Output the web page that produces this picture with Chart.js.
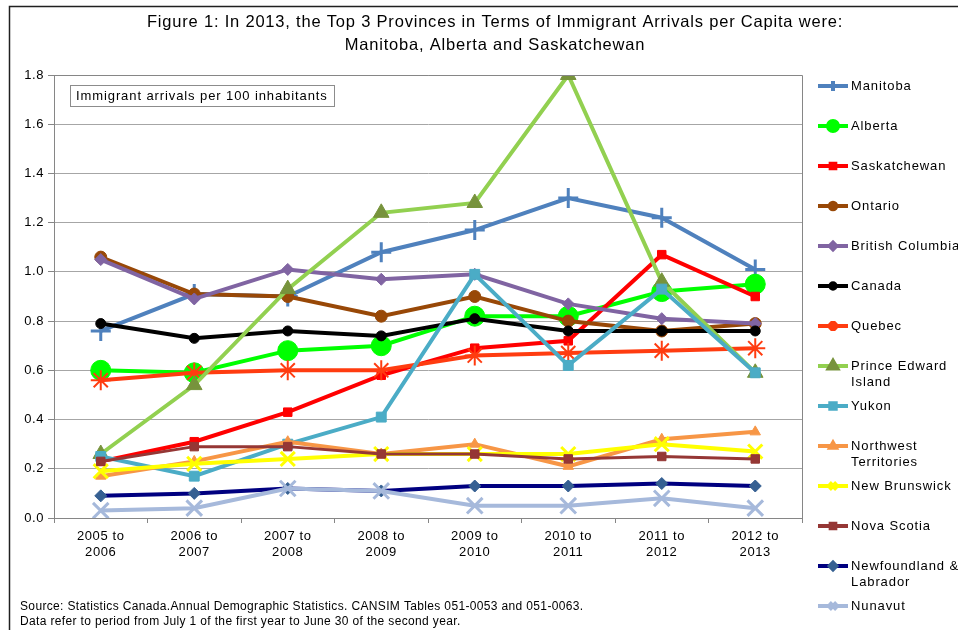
<!DOCTYPE html>
<html><head><meta charset="utf-8">
<script src="https://cdn.jsdelivr.net/npm/chart.js@4/dist/chart.umd.min.js"></script>
<style>html,body{margin:0;padding:0;background:#fff}#wrap{width:958px;height:630px}</style>
</head><body><div id="wrap"><canvas id="c" width="958" height="630"></canvas></div>
<script>
const categories = [['2005 to','2006'],['2006 to','2007'],['2007 to','2008'],['2008 to','2009'],['2009 to','2010'],['2010 to','2011'],['2011 to','2012'],['2012 to','2013']];
const yTickValues = [0,0.2,0.4,0.6,0.8,1.0,1.2,1.4,1.6,1.8];
const manitoba     = [0.76,0.91,0.90,1.08,1.17,1.30,1.22,1.01];
const alberta      = [0.60,0.59,0.68,0.70,0.82,0.82,0.92,0.95];
const saskatchewan = [0.23,0.31,0.43,0.58,0.69,0.72,1.07,0.90];
const ontario      = [1.06,0.91,0.90,0.82,0.90,0.80,0.76,0.79];
const britishCol   = [1.05,0.89,1.01,0.97,0.99,0.87,0.81,0.79];
const canada       = [0.79,0.73,0.76,0.74,0.81,0.76,0.76,0.76];
const quebec       = [0.56,0.59,0.60,0.60,0.66,0.67,0.68,0.69];
const pei          = [0.26,0.54,0.93,1.24,1.28,1.80,0.96,0.59];
const yukon        = [0.25,0.17,0.30,0.41,0.99,0.62,0.93,0.59];
const nwt          = [0.17,0.23,0.31,0.26,0.30,0.21,0.32,0.35];
const newBrunswick = [0.19,0.22,0.24,0.26,0.26,0.26,0.30,0.27];
const novaScotia   = [0.23,0.29,0.29,0.26,0.26,0.24,0.25,0.24];
const newfoundland = [0.09,0.10,0.12,0.11,0.13,0.13,0.14,0.13];
const nunavut      = [0.03,0.04,0.12,0.11,0.05,0.05,0.08,0.04];
const seriesNames = ['Manitoba','Alberta','Saskatchewan','Ontario','British Columbia','Canada','Quebec',['Prince Edward','Island'],'Yukon',['Northwest','Territories'],'New Brunswick','Nova Scotia',['Newfoundland &','Labrador'],'Nunavut'];
const titleLines = ['Figure 1: In 2013, the Top 3 Provinces in Terms of Immigrant Arrivals per Capita were:','Manitoba, Alberta and Saskatchewan'];
const boxNote = 'Immigrant arrivals per 100 inhabitants';
const sourceLines = ['Source: Statistics Canada.Annual Demographic Statistics. CANSIM Tables 051-0053 and 051-0063.','Data refer to period from July 1 of the first year to June 30 of the second year.'];

const FONT = '"Liberation Sans", Arial, sans-serif';
const styles = [
  {line:'#4F81BD', mk:'#4F81BD', ps:'cross', r:10, bw:3, lw:4},
  {line:'#00FF00', mk:'#00FF00', ps:'circle', r:10, bw:1, lw:4},
  {line:'#FF0000', mk:'#FF0000', ps:'rect', r:6, bw:1, lw:4},
  {line:'#984807', mk:'#984807', ps:'circle', r:6, bw:1, lw:4},
  {line:'#8064A2', mk:'#8064A2', ps:'rectRot', r:6, bw:1, lw:4},
  {line:'#000000', mk:'#000000', ps:'circle', r:5, bw:1, lw:4},
  {line:'#FF3C10', mk:'#FF3C10', ps:'star', r:10, bw:2, lw:4},
  {line:'#92D050', mk:'#77933C', ps:'triangle', r:9, bw:1, lw:4},
  {line:'#4BACC6', mk:'#4BACC6', ps:'rect', r:7, bw:1, lw:4},
  {line:'#F79646', mk:'#F79646', ps:'triangle', r:6, bw:1, lw:4},
  {line:'#FFFF00', mk:'#FFFF00', ps:'crossRot', r:10, bw:3, lw:4},
  {line:'#953735', mk:'#953735', ps:'rect', r:6, bw:1, lw:3},
  {line:'#000080', mk:'#366092', ps:'rectRot', r:6, bw:1, lw:4},
  {line:'#A6B9DB', mk:'#A6B9DB', ps:'crossRot', r:11, bw:3, lw:4}
];
const allData = [manitoba,alberta,saskatchewan,ontario,britishCol,canada,quebec,pei,yukon,nwt,newBrunswick,novaScotia,newfoundland,nunavut];
const datasets = allData.map((d,i)=>({
  label: Array.isArray(seriesNames[i]) ? seriesNames[i].join(' ') : seriesNames[i],
  data: d,
  borderColor: styles[i].line,
  backgroundColor: styles[i].mk,
  pointBackgroundColor: styles[i].mk,
  pointBorderColor: styles[i].mk,
  pointStyle: styles[i].ps,
  pointRadius: styles[i].r,
  pointBorderWidth: styles[i].bw,
  borderWidth: styles[i].lw,
  tension: 0,
  order: 100 - i
}));

const deco = {
  id:'deco',
  beforeDraw(chart){ chart.ctx.letterSpacing = '0.6px'; },
  afterDraw(chart){
    const ctx = chart.ctx, ca = chart.chartArea;
    ctx.save();
    // outer frame
    ctx.strokeStyle = '#202020'; ctx.lineWidth = 1.5;
    ctx.beginPath(); ctx.moveTo(9.5,640); ctx.lineTo(9.5,6.5); ctx.lineTo(970,6.5); ctx.stroke();
    // plot border top/right
    ctx.strokeStyle = '#868686'; ctx.lineWidth = 1;
    ctx.beginPath(); ctx.moveTo(ca.left, Math.round(ca.top)+0.5); ctx.lineTo(Math.round(ca.right)+0.5, Math.round(ca.top)+0.5); ctx.lineTo(Math.round(ca.right)+0.5, ca.bottom); ctx.stroke();
    // title
    ctx.letterSpacing = '0.8px';
    ctx.fillStyle = '#000'; ctx.font = '16.5px ' + FONT; ctx.textAlign='left'; ctx.textBaseline='middle';
    titleLines.forEach((t,k)=>{ const tw = ctx.measureText(t).width; ctx.fillText(t, 495 - tw/2, k===0 ? 22 : 45); });
    // note box
    ctx.letterSpacing = '0.9px';
    ctx.font = '13px ' + FONT; ctx.textAlign='left';
    const w = ctx.measureText(boxNote).width;
    ctx.fillStyle='#fff'; ctx.fillRect(70.5,85.5,264,21);
    ctx.strokeStyle='#8c8c8c'; ctx.strokeRect(70.5,85.5,264,21);
    ctx.fillStyle='#000'; ctx.fillText(boxNote, 76, 96.5);
    // source
    ctx.letterSpacing = '0.35px';
    ctx.font = '12px ' + FONT;
    ctx.fillText(sourceLines[0], 20, 607);
    ctx.fillText(sourceLines[1], 20, 622);
    // legend
    chart.data.datasets.forEach((ds,i)=>{
      const y = 86 + 40*i;
      ctx.strokeStyle = ds.borderColor; ctx.lineWidth = 4;
      ctx.beginPath(); ctx.moveTo(818,y); ctx.lineTo(848,y); ctx.stroke();
      ctx.fillStyle = ds.pointBackgroundColor; ctx.strokeStyle = ds.pointBorderColor;
      Chart.helpers.drawPoint(ctx, {pointStyle: ds.pointStyle, radius: Math.min(5, ds.pointRadius*0.55), rotation:0, borderWidth: Math.min(2, ds.pointBorderWidth)}, 833, y);
      ctx.letterSpacing = '0.9px';
      ctx.fillStyle = '#000'; ctx.font = '13px ' + FONT; ctx.textAlign='left'; ctx.textBaseline='middle';
      const nm = seriesNames[i];
      if (Array.isArray(nm)) { ctx.fillText(nm[0], 851, y); ctx.fillText(nm[1], 851, y+16.5); }
      else ctx.fillText(nm, 851, y);
    });
    ctx.restore();
  }
};

new Chart(document.getElementById('c'), {
  type:'line',
  data:{labels:categories, datasets},
  plugins:[deco],
  options:{
    responsive:false, animation:false, devicePixelRatio:1,
    layout:{padding:{left:0,right:156,top:75,bottom:0}},
    plugins:{legend:{display:false}, title:{display:false}, tooltip:{enabled:false}},
    scales:{
      x:{
        offset:true,
        grid:{display:true, drawOnChartArea:false, offset:true, tickLength:5, color:'#868686'},
        border:{color:'#868686'},
        ticks:{color:'#000', font:{family:FONT, size:13}, padding:6, maxRotation:0, autoSkip:false},
        afterFit(s){ s.height = 112; }
      },
      y:{
        min:0, max:1.8,
        afterBuildTicks(s){ s.ticks = yTickValues.map(v=>({value:v})); },
        grid:{color:'#a6a6a6', tickLength:6, tickColor:'#868686'},
        border:{color:'#868686'},
        ticks:{color:'#000', font:{family:FONT, size:13}, padding:4, callback:(v)=>Number(v).toFixed(1)},
        afterFit(s){ s.width = 54; }
      }
    }
  }
});
</script></body></html>
